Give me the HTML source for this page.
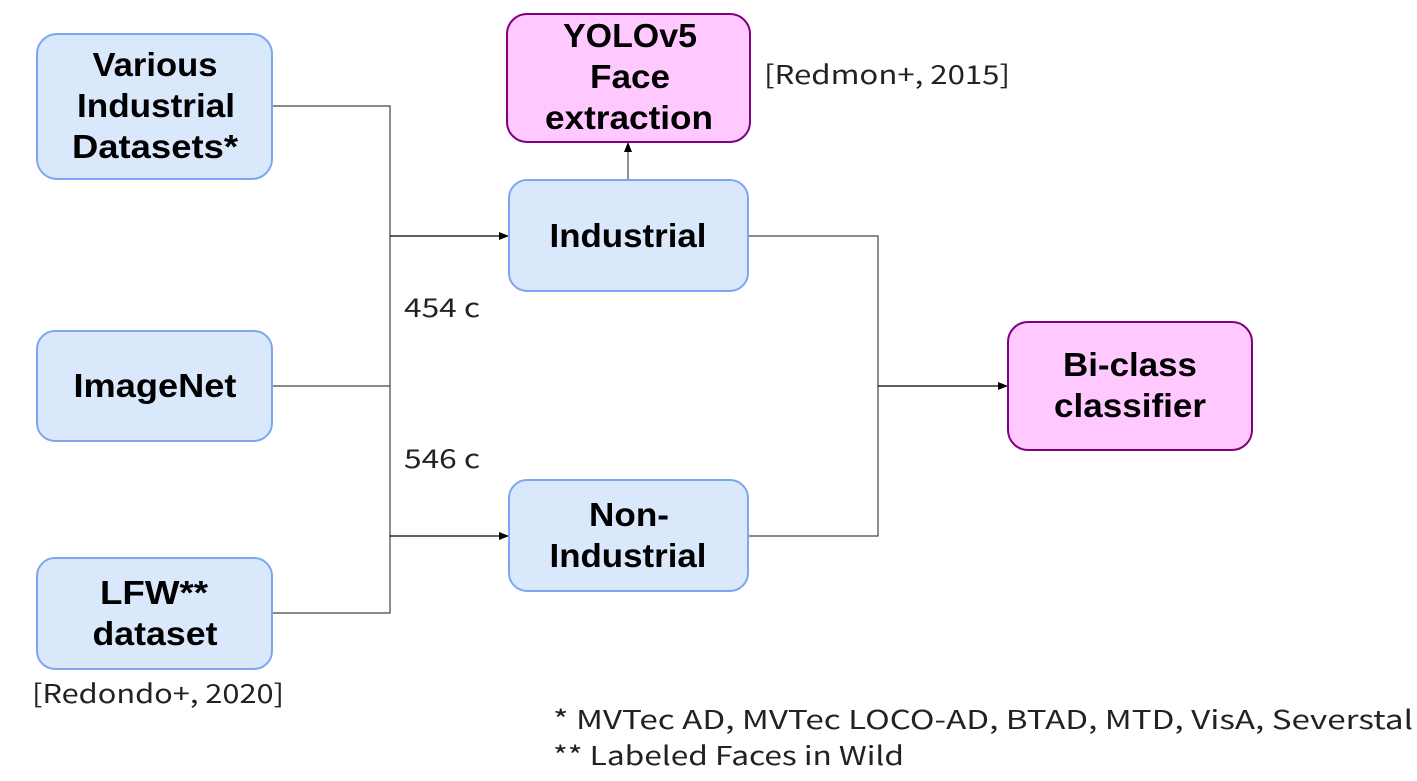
<!DOCTYPE html>
<html><head><meta charset="utf-8"><style>
html,body{margin:0;padding:0;background:#fff;}
svg{display:block;}
.b{font-family:"Liberation Sans","Noto Sans CJK JP",sans-serif;font-weight:bold;font-size:33px;fill:#000;text-anchor:middle;}
.l{font-family:"Noto Sans CJK JP","Liberation Sans",sans-serif;font-size:26px;fill:#222;}
</style></head><body>
<svg width="1417" height="781" viewBox="0 0 1417 781" xmlns="http://www.w3.org/2000/svg">
<defs><marker id="a" markerWidth="10" markerHeight="8" refX="9" refY="4" orient="auto" markerUnits="userSpaceOnUse"><path d="M0,0 L10,4 L0,8 z" fill="#000"/></marker></defs>
<g fill="none" stroke="#444" stroke-width="1.2">
<polyline points="272,106 390,106 390,613 272,613"/>
<line x1="272" y1="386" x2="390" y2="386"/>
<polyline points="748,236 878,236 878,536 748,536"/>
</g>
<g stroke="#000" stroke-width="1.2">
<line x1="390" y1="236" x2="508" y2="236" marker-end="url(#a)"/>
<line x1="390" y1="536" x2="508" y2="536" marker-end="url(#a)"/>
<line x1="878" y1="386" x2="1007" y2="386" marker-end="url(#a)"/>
</g>
<line x1="628" y1="180" x2="628" y2="143" stroke="#444" stroke-width="1.2" marker-end="url(#a)"/>
<g fill="#dae8fc" stroke="#7ea6f0" stroke-width="2">
<rect x="37" y="34" width="235" height="145" rx="20"/>
<rect x="37" y="331" width="235" height="110" rx="18"/>
<rect x="37" y="558" width="235" height="111" rx="18"/>
<rect x="509" y="180" width="239" height="111" rx="18"/>
<rect x="509" y="480" width="239" height="111" rx="18"/>
</g>
<g fill="#ffc8ff" stroke="#800080" stroke-width="2">
<rect x="507" y="14" width="243" height="128" rx="20"/>
<rect x="1008" y="322" width="244" height="128" rx="20"/>
</g>
<g class="b">
<text class="b" x="155" y="76" textLength="125" lengthAdjust="spacingAndGlyphs">Various</text>
<text class="b" x="156" y="117" textLength="158" lengthAdjust="spacingAndGlyphs">Industrial</text>
<text class="b" x="155" y="158" textLength="166" lengthAdjust="spacingAndGlyphs">Datasets*</text>
<text class="b" x="155" y="397" textLength="163" lengthAdjust="spacingAndGlyphs">ImageNet</text>
<text class="b" x="154" y="604" textLength="108" lengthAdjust="spacingAndGlyphs">LFW**</text>
<text class="b" x="155" y="645" textLength="125" lengthAdjust="spacingAndGlyphs">dataset</text>
<text class="b" x="630" y="47" textLength="134" lengthAdjust="spacingAndGlyphs">YOLOv5</text>
<text class="b" x="630" y="88" textLength="80" lengthAdjust="spacingAndGlyphs">Face</text>
<text class="b" x="629" y="129" textLength="168" lengthAdjust="spacingAndGlyphs">extraction</text>
<text class="b" x="628" y="247" textLength="157" lengthAdjust="spacingAndGlyphs">Industrial</text>
<text class="b" x="629" y="526" textLength="80" lengthAdjust="spacingAndGlyphs">Non-</text>
<text class="b" x="628" y="567" textLength="157" lengthAdjust="spacingAndGlyphs">Industrial</text>
<text class="b" x="1130" y="376" textLength="134" lengthAdjust="spacingAndGlyphs">Bi-class</text>
<text class="b" x="1130" y="417" textLength="152" lengthAdjust="spacingAndGlyphs">classifier</text>
</g>
<text class="l" x="404" y="317" textLength="76" lengthAdjust="spacingAndGlyphs">454 c</text>
<text class="l" x="404" y="468" textLength="76" lengthAdjust="spacingAndGlyphs">546 c</text>
<text class="l" x="764" y="84" textLength="246" lengthAdjust="spacingAndGlyphs">[Redmon+, 2015]</text>
<text class="l" x="32" y="703" textLength="252" lengthAdjust="spacingAndGlyphs">[Redondo+, 2020]</text>
<text class="l" x="553" y="729" textLength="860" lengthAdjust="spacingAndGlyphs">* MVTec AD, MVTec LOCO-AD, BTAD, MTD, VisA, Severstal</text>
<text class="l" x="553" y="765" textLength="351" lengthAdjust="spacingAndGlyphs">** Labeled Faces in Wild</text>
</svg>
</body></html>
